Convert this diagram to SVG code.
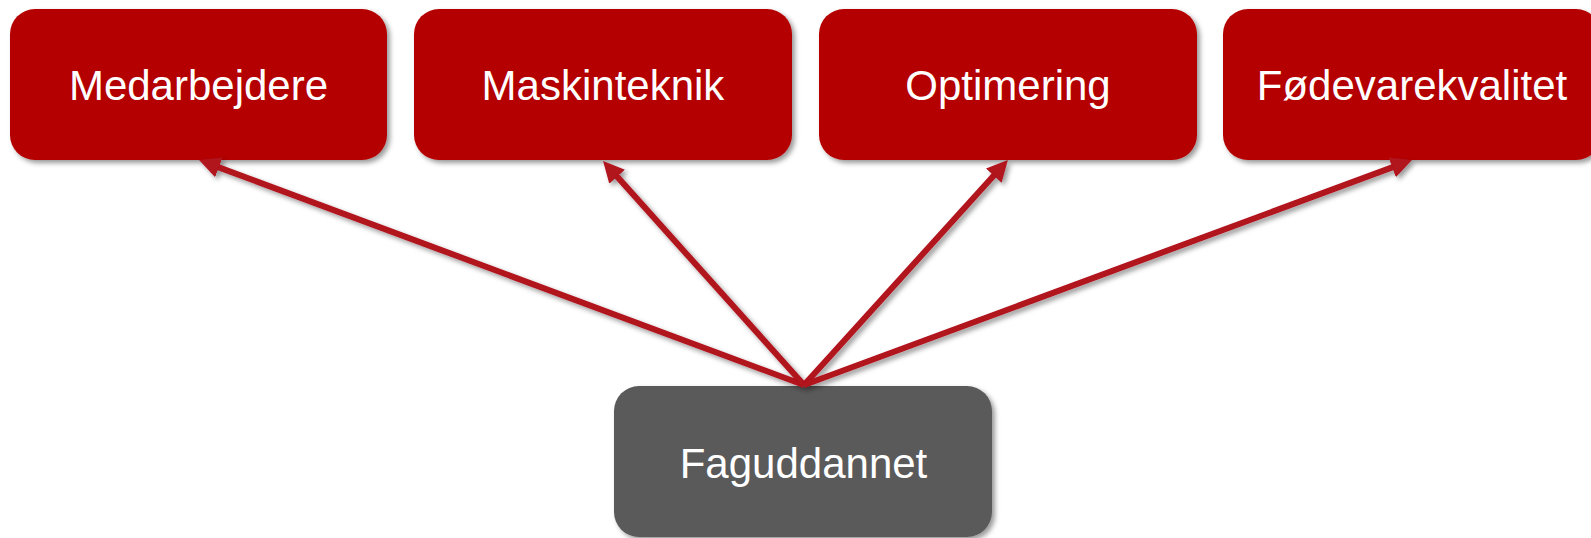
<svg xmlns="http://www.w3.org/2000/svg" width="1591" height="538" viewBox="0 0 1591 538">
<style>
.top{fill:#B40000;}
.bot{fill:#5A5A5A;}
.lbl{font-family:"Liberation Sans",Arial,sans-serif;font-size:42px;fill:#FFFFFF;text-anchor:middle;}
.conn{stroke:#B1121F;stroke-width:6;fill:none;marker-end:url(#ah);}
</style>
<defs>
<filter id="sh" x="-10%" y="-10%" width="120%" height="130%">
<feDropShadow dx="3" dy="3" stdDeviation="2.5" flood-color="#000" flood-opacity="0.4"/>
</filter>
<marker id="ah" viewBox="0 0 10 10" refX="1" refY="5" markerWidth="3.5" markerHeight="3.5" orient="auto" markerUnits="strokeWidth">
<path d="M0,0 L10,5 L0,10 z" fill="#B1121F"/>
</marker>
</defs>
<rect width="1591" height="538" fill="#FFFFFF"/>
<g id="n-medarbejdere">
<rect class="top" x="10" y="9" width="377" height="151" rx="25" filter="url(#sh)"/>
<text class="lbl" x="198.5" y="100">Medarbejdere</text>
</g>
<g id="n-maskinteknik">
<rect class="top" x="414" y="9" width="378" height="151" rx="25" filter="url(#sh)"/>
<text class="lbl" x="603" y="100">Maskinteknik</text>
</g>
<g id="n-optimering">
<rect class="top" x="819" y="9" width="378" height="151" rx="25" filter="url(#sh)"/>
<text class="lbl" x="1008" y="100">Optimering</text>
</g>
<g id="n-foedevarekvalitet">
<rect class="top" x="1223" y="9" width="378" height="151" rx="25" filter="url(#sh)"/>
<text class="lbl" x="1412" y="100">Fødevarekvalitet</text>
</g>
<g id="n-faguddannet">
<rect class="bot" x="614" y="386" width="378" height="151" rx="25" filter="url(#sh)"/>
<text class="lbl" x="803.5" y="478">Faguddannet</text>
</g>
<g id="connectors" filter="url(#sh)">
<line class="conn" x1="804" y1="385" x2="216.8" y2="166.6"/>
<line class="conn" x1="804" y1="385" x2="615.7" y2="175.1"/>
<line class="conn" x1="804" y1="385" x2="995.2" y2="174.1"/>
<line class="conn" x1="804" y1="385" x2="1394.2" y2="166.6"/>
</g>
</svg>
